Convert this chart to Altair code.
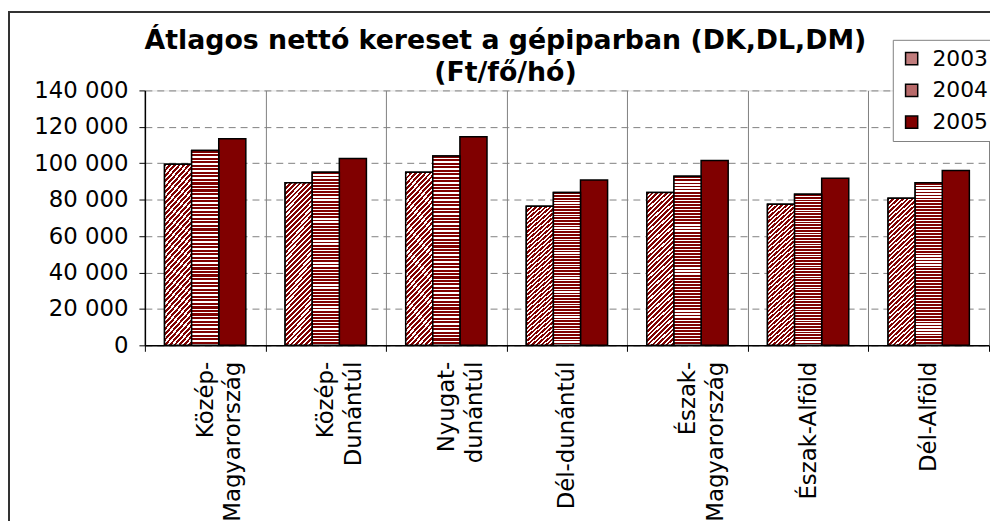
import altair as alt
import pandas as pd

regions = ["Közép-|Magyarország", "Közép-|Dunántúl", "Nyugat-|dunántúl", "Dél-dunántúl",
           "Észak-|Magyarország", "Észak-Alföld", "Dél-Alföld"]
years = ["2003", "2004", "2005"]
v2003 = [99500, 89300, 95000, 76400, 83900, 77500, 80800]
v2004 = [107000, 95000, 104000, 84000, 92800, 83000, 89300]
v2005 = [113500, 102600, 114600, 90800, 101500, 91700, 96000]
y_ticks = [0, 20000, 40000, 60000, 80000, 100000, 120000, 140000]

rows = []
for i, r in enumerate(regions):
    for y, vals in zip(years, [v2003, v2004, v2005]):
        rows.append({"region": r, "year": y, "value": vals[i]})
df = pd.DataFrame(rows)

DARK = "#800000"
LIGHT = "#ffffff"
FONT = "DejaVu Sans"


def stripes(n, frac, x2, y2):
    stops = []
    for k in range(n):
        a = k / n
        b = (k + frac) / n
        c = (k + 1) / n
        stops += [alt.GradientStop(offset=a, color=DARK),
                  alt.GradientStop(offset=b, color=DARK),
                  alt.GradientStop(offset=b, color=LIGHT),
                  alt.GradientStop(offset=c, color=LIGHT)]
    return alt.Gradient(gradient="linear", stops=stops, x1=0, y1=0, x2=x2, y2=y2)


diag = stripes(40, 0.55, 0.2, 1.17)
horiz = stripes(55, 0.6, 0, 1)

x_enc = alt.X("region:N", sort=regions, title=None,
              scale=alt.Scale(paddingInner=0, paddingOuter=0),
              axis=alt.Axis(labelAngle=-90, labelExpr="split(datum.label, '|')",
                            labelFont=FONT, labelFontSize=23, labelColor="black",
                            labelLineHeight=28, labelPadding=10,
                            tickBand="extent", grid=True, gridColor="#808080", gridWidth=1,
                            tickColor="black", tickSize=6, domainColor="black", domainWidth=1.5))
y_enc = alt.Y("value:Q", title=None,
              scale=alt.Scale(domain=[0, 140000], nice=False),
              axis=alt.Axis(values=y_ticks, labelFont=FONT, labelFontSize=23, labelColor="black",
                            labelExpr="replace(format(datum.value, ','), ',', ' ')",
                            labelPadding=11, tickColor="black", tickSize=6,
                            domainColor="black", domainWidth=1.5,
                            grid=True, gridColor="#808080", gridDash=[7, 5], gridWidth=1))
xo_enc = alt.XOffset("year:N", sort=years,
                     scale=alt.Scale(paddingInner=0, paddingOuter=0.725))

base = alt.Chart(df)

bars = base.mark_bar(stroke="black", strokeWidth=1.5).encode(
    x=x_enc, y=y_enc, xOffset=xo_enc,
    color=alt.Color("year:N", sort=years,
                    scale=alt.Scale(domain=years, range=["#c07c7c", "#b86a6a", DARK]),
                    legend=alt.Legend(title=None, orient="none", legendX=754, legendY=-51,
                                      labelFont=FONT, labelFontSize=22, labelColor="black",
                                      symbolType="square", symbolSize=150,
                                      symbolStrokeColor="black", symbolStrokeWidth=1.5,
                                      rowPadding=10, labelOffset=10, padding=8,
                                      strokeColor="#808080", fillColor="white")),
)

b2003 = base.transform_filter(alt.datum.year == "2003").mark_bar(
    fill=diag, stroke="black", strokeWidth=1.5).encode(x=x_enc, y=y_enc, xOffset=xo_enc)
b2004 = base.transform_filter(alt.datum.year == "2004").mark_bar(
    fill=horiz, stroke="black", strokeWidth=1.5).encode(x=x_enc, y=y_enc, xOffset=xo_enc)

frame = alt.Chart(df).mark_rect(filled=False, stroke="#333333", strokeWidth=2).encode(
    x=alt.value(-137), y=alt.value(-79), x2=alt.value(3000), y2=alt.value(3000))

chart = alt.layer(bars, b2003, b2004, frame).properties(
    width=851, height=257,
    title=alt.TitleParams(text=["Átlagos nettó kereset a gépiparban (DK,DL,DM)", "(Ft/fő/hó)"],
                          font=FONT, fontSize=27, fontWeight="bold", color="black",
                          anchor="middle", dx=-62, dy=79, offset=2, lineHeight=33),
    autosize=alt.AutoSizeParams(type="none"),
    padding={"left": 138, "top": 81, "right": 1, "bottom": 175},
).configure_view(stroke="black", strokeWidth=1.5).configure(background="white")

chart.save("out.html", embed_options={"renderer": "svg", "actions": False})
